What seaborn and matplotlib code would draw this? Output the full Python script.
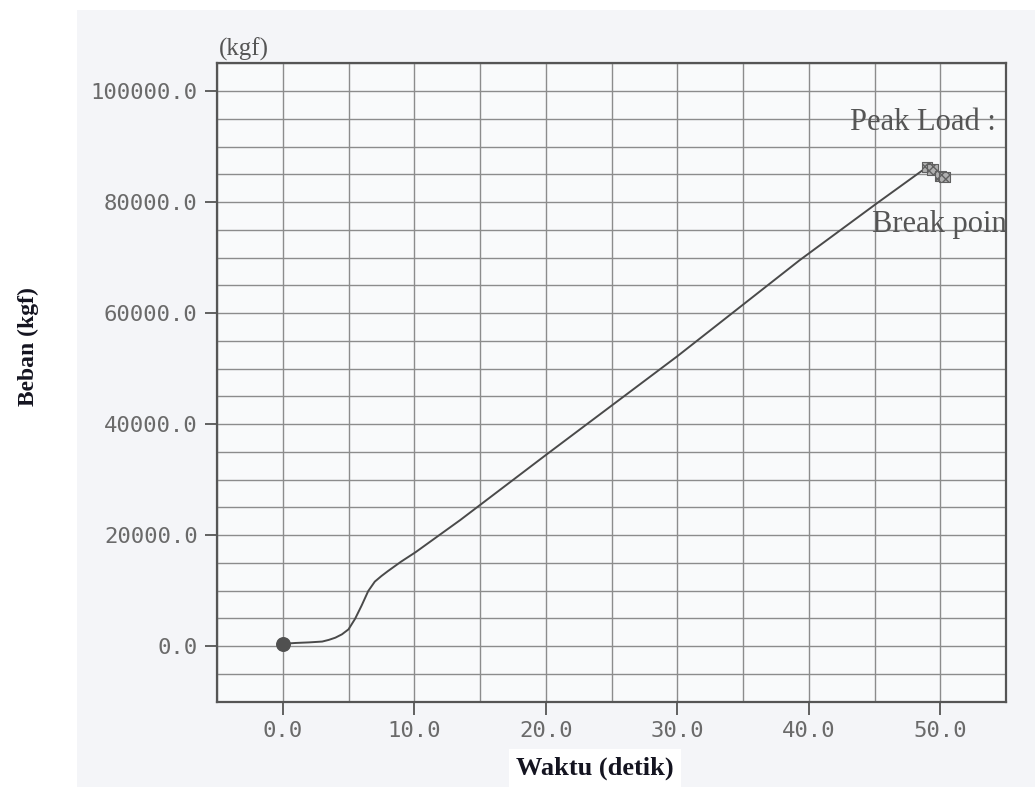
import matplotlib
matplotlib.use("Agg")
import matplotlib.pyplot as plt
from matplotlib.patches import Rectangle
from matplotlib.ticker import MultipleLocator, FixedLocator, FormatStrFormatter
import seaborn as sns

# Load–time record of the tensile test
waktu = [0.0, 1.0, 2.0, 3.0, 3.5, 4.0, 4.5, 5.0, 5.5, 6.0, 6.5, 7.0, 7.5,
         8.0, 9.0, 10.1, 13.5, 20.0, 30.0, 39.3, 45.2, 49.0]
beban = [400, 550, 650, 800, 1100, 1500, 2100, 3000, 4900, 7300, 9900,
         11600, 12600, 13500, 15200, 16900, 22700, 34400, 52200, 69500,
         79800, 86300]

# Peak load and break point markers
puncak_waktu = [49.0, 49.4, 50.0, 50.3]
puncak_beban = [86300, 85800, 84700, 84500]

x_ticks = [0, 10, 20, 30, 40, 50]
y_ticks = [0, 20000, 40000, 60000, 80000, 100000]

sns.set_theme(style="white")
plt.rcParams['font.family'] = ['DejaVu Sans']

W, H = 1035, 787
fig = plt.figure(figsize=(W / 100, H / 100), dpi=100, facecolor='white')
fig.patches.append(Rectangle((77 / W, 0), 1 - 77 / W, 1 - 10 / H,
                             transform=fig.transFigure, facecolor='#f4f5f8',
                             edgecolor='none', zorder=-10))

ax = fig.add_axes([217 / W, 1 - 701.5 / H, (1006 - 217) / W, (701.5 - 63.25) / H])
ax.set_facecolor('#f9fafb')

sns.lineplot(x=waktu, y=beban, ax=ax, color='#4a4a4a', lw=1.4,
             sort=False, estimator=None, zorder=3)
ax.plot([waktu[-1]] + puncak_waktu[1:], [beban[-1]] + puncak_beban[1:],
        color='#4a4a4a', lw=1.4, zorder=3)
ax.scatter([waktu[0]], [beban[0]], s=95, color='#505050', zorder=5)
ax.scatter(puncak_waktu, puncak_beban, marker='s', s=60, facecolor='#b0b0b0',
           edgecolor='#606060', hatch='xxxx', linewidths=0.8, zorder=5)

ax.set_xlim(-5, 55)
ax.set_ylim(-10000, 105000)
ax.xaxis.set_major_locator(FixedLocator(x_ticks))
ax.yaxis.set_major_locator(FixedLocator(y_ticks))
ax.xaxis.set_minor_locator(MultipleLocator(5))
ax.yaxis.set_minor_locator(MultipleLocator(5000))
ax.xaxis.set_major_formatter(FormatStrFormatter('%.1f'))
ax.yaxis.set_major_formatter(FormatStrFormatter('%.1f'))
ax.grid(which='both', color='#8c8c8c', lw=1.0, zorder=0)
ax.set_axisbelow(True)

ax.tick_params(which='major', bottom=True, left=True, direction='out', length=9,
               width=1.3, color='#555555', labelcolor='#6a6a6a', labelsize=16, pad=5)
ax.tick_params(which='minor', length=0)
for lab in ax.get_xticklabels() + ax.get_yticklabels():
    lab.set_family('DejaVu Sans Mono')

for sp in ax.spines.values():
    sp.set_color('#555555')
    sp.set_linewidth(1.6)

serif = 'Liberation Serif'
ax.text(0.002, 1.004, '(kgf)', transform=ax.transAxes, ha='left', va='bottom',
        family=serif, fontsize=18, color='#555555')
ax.text(43.1, 94400, 'Peak Load :', ha='left', va='center', family=serif,
        fontsize=22, color='#555555', clip_on=True)
ax.text(44.8, 75900, 'Break point', ha='left', va='center', family=serif,
        fontsize=22, color='#555555', clip_on=True)

fig.text(595 / W, 1 - 768 / H, 'Waktu (detik)', ha='center', va='center',
         family=serif, fontweight='bold', fontsize=19, color='#141420',
         bbox=dict(facecolor='white', edgecolor='none', pad=5))
fig.text(28 / W, 1 - 347 / H, 'Beban (kgf)', rotation=90, ha='center', va='center',
         family=serif, fontweight='bold', fontsize=17, color='#141420')

fig.savefig('out.png', dpi=100, facecolor='white')
